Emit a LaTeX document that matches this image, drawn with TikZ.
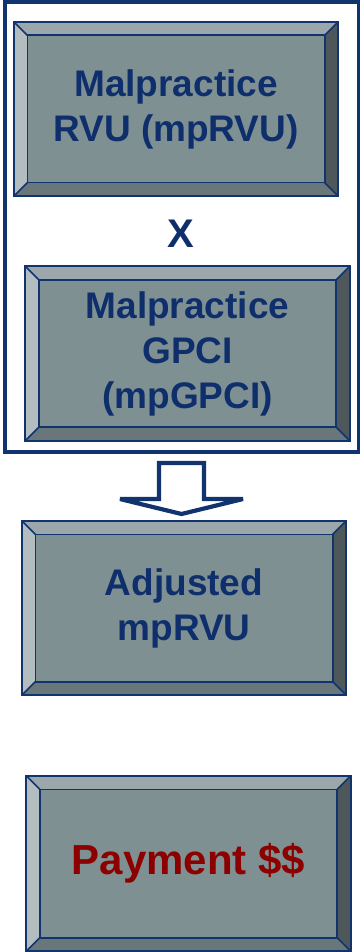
\documentclass[tikz,border=0pt]{standalone}
\usepackage{fontspec}
\setmainfont{Liberation Sans}
\definecolor{rim}{RGB}{17,51,110}
\definecolor{inkblue}{RGB}{14,47,108}
\definecolor{inkred}{RGB}{140,0,0}
\definecolor{face}{RGB}{127,144,147}
\definecolor{bvtop}{RGB}{155,167,171}
\definecolor{bvleft}{RGB}{179,189,192}
\definecolor{bvright}{RGB}{78,88,91}
\definecolor{bvbottom}{RGB}{106,119,122}
\newcommand\bv{13.5}
% bevelled rim drawn around the face node #1
\newcommand\bevelrim[1]{%
  \coordinate (#1-nw) at ([shift={(-\bv,-\bv)}]#1.north west);
  \coordinate (#1-ne) at ([shift={(\bv,-\bv)}]#1.north east);
  \coordinate (#1-se) at ([shift={(\bv,\bv)}]#1.south east);
  \coordinate (#1-sw) at ([shift={(-\bv,\bv)}]#1.south west);
  \fill[bvtop] (#1-nw) -- (#1-ne) -- (#1.north east) -- (#1.north west) -- cycle;
  \fill[bvright] (#1-ne) -- (#1-se) -- (#1.south east) -- (#1.north east) -- cycle;
  \fill[bvbottom] (#1-se) -- (#1-sw) -- (#1.south west) -- (#1.south east) -- cycle;
  \fill[bvleft] (#1-sw) -- (#1-nw) -- (#1.north west) -- (#1.south west) -- cycle;
  \draw[rimline] (#1-nw) -- (#1.north west) (#1-ne) -- (#1.north east)
                 (#1-se) -- (#1.south east) (#1-sw) -- (#1.south west);
  \draw[rimline] (#1.north west) rectangle (#1.south east);
  \draw[rimline, line width=2.2] (#1-nw) rectangle (#1-se);
}
\tikzset{
  rimline/.style={draw=rim, line width=1.6},
  facebox/.style={fill=face, inner sep=0pt, align=center,
    minimum width=297, minimum height=147,
    font=\bfseries\fontsize{37}{45}\selectfont, text=inkblue},
  blockarrow/.style={draw=rim, fill=white, line width=4.2, line join=miter, miter limit=4},
}
\begin{document}
\begin{tikzpicture}[x=1pt, y=-1pt]
  \useasboundingbox (0,0) rectangle (361,952);
  \fill[white] (0,0) rectangle (361,952);

  % grouping frame around the two factors
  \draw[draw=rim, line width=3.8] (5,2) rectangle (358.5,452);

  \node[facebox] (rvu) at (176,109) {Malpractice\\RVU (mpRVU)};
  \bevelrim{rvu}

  \node[text=inkblue, font=\bfseries\fontsize{40}{40}\selectfont] (times) at (181,234) {X};

  \node[facebox] (gpci) at (187.5,353.5) {Malpractice\\GPCI\\(mpGPCI)};
  \bevelrim{gpci}

  \node[facebox] (adj) at (184,608) {Adjusted\\mpRVU};
  \bevelrim{adj}

  \node[facebox, minimum height=148, text=inkred,
        font=\bfseries\fontsize{42}{48}\selectfont] (pay) at (188.5,863.5) {Payment \$\$};
  \bevelrim{pay}

  % hollow block arrow pointing down
  \coordinate (tip) at (181.5,514);
  \draw[blockarrow] (159,463) -- (204,463) -- (204,499) -- (243,499)
     -- (tip) -- (120,499) -- (159,499) -- cycle;
\end{tikzpicture}
\end{document}
